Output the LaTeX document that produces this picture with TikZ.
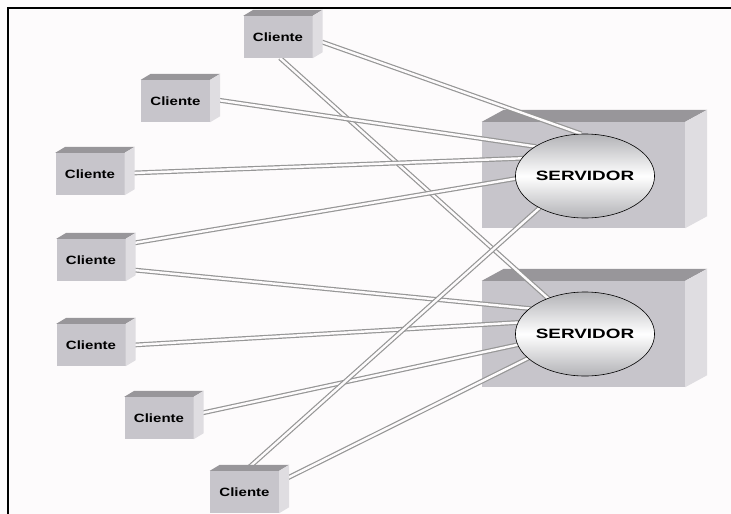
\documentclass[tikz,border=0pt]{standalone}
\usepackage{fontspec}
\setmainfont{Liberation Sans}
\usepackage{graphicx}
\usetikzlibrary{calc,shapes.geometric}
\definecolor{bg}{RGB}{253,251,252}
\definecolor{cfront}{RGB}{199,197,203}
\definecolor{ctop}{RGB}{152,150,154}
\definecolor{cside}{RGB}{223,221,225}
\definecolor{lineg}{RGB}{150,150,150}
\definecolor{ellg}{RGB}{178,178,182}
\newcommand\cubefaces[3]{%
  \fill[ctop] (#1.north west) -- ++(#2,-#3) -- ($(#1.north east)+(#2,-#3)$) -- (#1.north east) -- cycle;
  \fill[cside] (#1.north east) -- ++(#2,-#3) -- ($(#1.south east)+(#2,-#3)$) -- (#1.south east) -- cycle;
}
\tikzset{
  client/.style={rectangle, fill=cfront, minimum width=69pt, minimum height=42pt, inner sep=0pt,
    font=\fontsize{12}{13}\selectfont\bfseries},
  srvbox/.style={rectangle, fill=cfront, minimum width=203pt, minimum height=106pt, inner sep=0pt},
  ellshape/.style={ellipse, minimum width=136pt, minimum height=84pt, inner sep=0pt},
  srvell/.style={ellshape, draw=black, line width=0.6pt,
    top color=ellg, bottom color=ellg, middle color=white, font=\fontsize{13.5}{14}\selectfont\bfseries},
  conn/.style={draw=lineg, line width=1.2pt, double=bg, double distance=2.4pt},
  frame/.style={line width=2pt, draw=black}
}
\begin{document}
\begin{tikzpicture}[x=1pt,y=-1pt]
\fill[bg] (0,0) rectangle (731,514);
\useasboundingbox (0,0) rectangle (731,514);
\draw[frame] (7.5,514) -- (7.5,7.5) -- (731,7.5);
% servers
\node[srvbox] (s1) at (583.5,175) {};
\cubefaces{s1}{22}{12}
\node[srvbox] (s2) at (583.5,334) {};
\cubefaces{s2}{22}{12}
% client positions
\coordinate (p1) at (278,37);
\coordinate (p2) at (175.5,101);
\coordinate (p3) at (90,174);
\coordinate (p4) at (91,260);
\coordinate (p5) at (91,345);
\coordinate (p6) at (159,418);
\coordinate (p7) at (244.5,492);
% ellipse outlines used as connector ends
\node[ellshape] (e1) at (585,176) {};
\node[ellshape] (e2) at (585,334) {};
% connectors
\draw[conn] ($(p1)+(44,5)$) -- (e1.95);
\draw[conn] ($(p1)+(2,21)$) -- (e2.136);
\draw[conn] ($(p2)+(42,-1)$) -- (e1.149);
\draw[conn] ($(p3)+(43,-1)$) -- (e1.164);
\draw[conn] ($(p4)+(43,-17)$) -- (e1.182);
\draw[conn] ($(p4)+(43,10)$) -- (e2.155);
\draw[conn] ($(p5)+(43,0)$) -- (e2.170);
\draw[conn] ($(p6)+(43,-5)$) -- (e2.189);
\draw[conn] ($(p7)+(5,-25)$) -- (e1.215);
\draw[conn] ($(p7)+(43,-14)$) -- (e2.203);
% clients
\node[client] (c1) at (p1) {\scalebox{1.25}[1]{Cliente}};
\cubefaces{c1}{10}{6}
\node[client] (c2) at (p2) {\scalebox{1.25}[1]{Cliente}};
\cubefaces{c2}{10}{6}
\node[client] (c3) at (p3) {\scalebox{1.25}[1]{Cliente}};
\cubefaces{c3}{10}{6}
\node[client] (c4) at (p4) {\scalebox{1.25}[1]{Cliente}};
\cubefaces{c4}{10}{6}
\node[client] (c5) at (p5) {\scalebox{1.25}[1]{Cliente}};
\cubefaces{c5}{10}{6}
\node[client] (c6) at (p6) {\scalebox{1.25}[1]{Cliente}};
\cubefaces{c6}{10}{6}
\node[client] (c7) at (p7) {\scalebox{1.25}[1]{Cliente}};
\cubefaces{c7}{10}{6}
% server ellipses
\node[srvell] (sv1) at (e1) {\scalebox{1.4}[1]{SERVIDOR}};
\node[srvell] (sv2) at (e2) {\scalebox{1.4}[1]{SERVIDOR}};
\end{tikzpicture}
\end{document}
